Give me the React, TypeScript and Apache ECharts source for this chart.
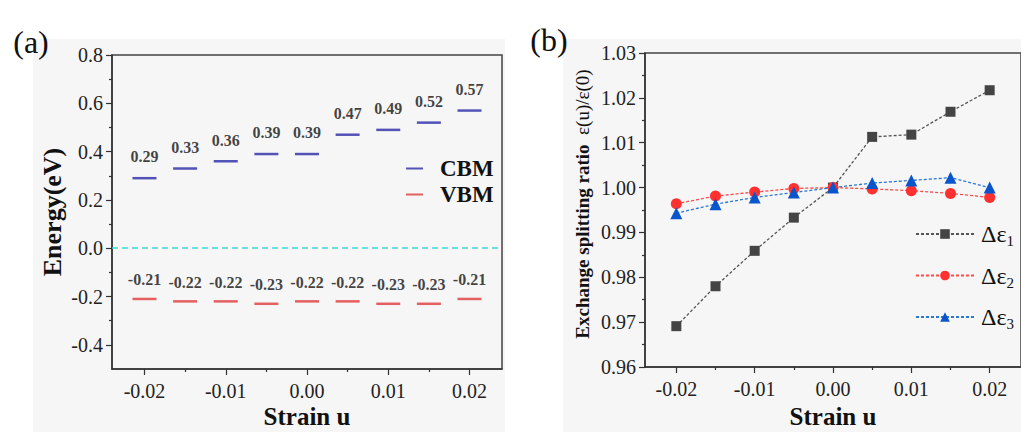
import React, { useEffect, useRef } from "react";
import * as echarts from "echarts";

const strain = [-0.02, -0.015, -0.01, -0.005, 0, 0.005, 0.01, 0.015, 0.02];
const cbm = [0.29, 0.33, 0.36, 0.39, 0.39, 0.47, 0.49, 0.52, 0.57];
const vbm = [-0.21, -0.22, -0.22, -0.23, -0.22, -0.22, -0.23, -0.23, -0.21];
const d1 = [0.9691, 0.978, 0.9859, 0.9933, 1.0, 1.0113, 1.0118, 1.0169, 1.0217];
const d2 = [0.9964, 0.9981, 0.999, 0.9998, 1.0, 0.9997, 0.9993, 0.9987, 0.9978];
const d3 = [0.9943, 0.9963, 0.9978, 0.9989, 1.0, 1.001, 1.0016, 1.0022, 1.0];

const xMajor = [-0.02, -0.01, 0, 0.01, 0.02];
const xMinor = [-0.015, -0.005, 0.005, 0.015];
const yaMajor = [-0.4, -0.2, 0, 0.2, 0.4, 0.6, 0.8];
const yaMinor = [-0.3, -0.1, 0.1, 0.3, 0.5, 0.7];
const ybMajor = [0.96, 0.97, 0.98, 0.99, 1.0, 1.01, 1.02, 1.03];
const ybMinor = [0.965, 0.975, 0.985, 0.995, 1.005, 1.015, 1.025];

const FONT = "Liberation Serif";
const AX = "#333";

function pairs(ys: number[]) {
  return strain.map((x, i) => [x, ys[i]]);
}

function mainAxis(grid: number, pos: string, min: number, max: number, major: number[], digits: number, margin: number) {
  return {
    type: "value",
    gridIndex: grid,
    position: pos,
    min,
    max,
    axisLine: { show: true, onZero: false, lineStyle: { color: AX, width: 1.5 } },
    axisTick: { show: true, customValues: major, length: 6, lineStyle: { color: AX, width: 1.2 } },
    axisLabel: {
      show: true,
      customValues: major,
      formatter: (v: number) => v.toFixed(digits),
      fontFamily: FONT,
      fontSize: 20,
      color: "#222",
      margin,
    },
    splitLine: { show: false },
  };
}

function minorAxis(grid: number, pos: string, min: number, max: number, minor: number[]) {
  return {
    type: "value",
    gridIndex: grid,
    position: pos,
    offset: 0,
    min,
    max,
    axisLine: { show: false, onZero: false },
    axisTick: { show: true, customValues: minor, length: 3, lineStyle: { color: AX, width: 1.2 } },
    axisLabel: { show: false },
    splitLine: { show: false },
  };
}

export default function App() {
  const ref = useRef<HTMLDivElement>(null);
  useEffect(() => {
    if (!ref.current) return;
    const chart = echarts.init(ref.current, null, { renderer: "svg" });
    const pointLabel = (dist: number) => ({
      show: true,
      position: "top",
      distance: dist,
      formatter: (p: any) => p.value[1].toFixed(2),
      fontFamily: FONT,
      fontWeight: "bold",
      fontSize: 16,
      color: "#111",
    });
    const lineSeries = (name: string, ys: number[], sym: string, size: number, color: string, lineColor: string) => ({
      name,
      type: "line",
      xAxisIndex: 2,
      yAxisIndex: 2,
      data: pairs(ys),
      symbol: sym,
      symbolSize: size,
      itemStyle: { color },
      lineStyle: { color: lineColor, width: 1.3, type: [3, 2] },
    });
    chart.setOption({
      animation: false,
      backgroundColor: "#ffffff",
      textStyle: { fontFamily: FONT },
      graphic: [
        { type: "rect", z: -10, shape: { x: 33, y: 39, width: 472, height: 393 }, style: { fill: "#f6f6f6" } },
        { type: "rect", z: -10, shape: { x: 563, y: 39, width: 458, height: 393 }, style: { fill: "#f6f6f6" } },
        { type: "text", x: 31, y: 42, style: { text: "(a)", fontFamily: FONT, fontSize: 32, fill: "#111", align: "center", verticalAlign: "middle" } },
        { type: "text", x: 549, y: 40, style: { text: "(b)", fontFamily: FONT, fontSize: 32, fill: "#111", align: "center", verticalAlign: "middle" } },
        { type: "text", x: 52, y: 212, rotation: Math.PI / 2, style: { text: "Energy(eV)", fontFamily: FONT, fontWeight: "bold", fontSize: 26, fill: "#111", align: "center", verticalAlign: "middle" } },
        { type: "text", x: 307, y: 416, style: { text: "Strain u", fontFamily: FONT, fontWeight: "bold", fontSize: 25, fill: "#111", align: "center", verticalAlign: "middle" } },
        { type: "text", x: 833, y: 416, style: { text: "Strain u", fontFamily: FONT, fontWeight: "bold", fontSize: 25, fill: "#111", align: "center", verticalAlign: "middle" } },
        {
          type: "text",
          x: 582,
          y: 204,
          rotation: Math.PI / 2,
          style: {
            text: "{b|Exchange splitting ratio}{n|  ε(u)/ε(0)}",
            rich: {
              b: { fontFamily: FONT, fontWeight: "bold", fontSize: 19, fill: "#111" },
              n: { fontFamily: FONT, fontSize: 19, fill: "#111" },
            },
            align: "center",
            verticalAlign: "middle",
          },
        },
      ],
      grid: [
        { left: 112, top: 55, width: 390, height: 314, show: true, borderColor: "#444", borderWidth: 1.5, backgroundColor: "transparent" },
        { left: 645, top: 53, width: 387, height: 314, show: true, borderColor: "#444", borderWidth: 1.5, backgroundColor: "transparent" },
      ],
      xAxis: [
        mainAxis(0, "bottom", -0.024, 0.024, xMajor, 2, 12),
        minorAxis(0, "bottom", -0.024, 0.024, xMinor),
        mainAxis(1, "bottom", -0.024, 0.024, xMajor, 2, 12),
        minorAxis(1, "bottom", -0.024, 0.024, xMinor),
      ],
      yAxis: [
        mainAxis(0, "left", -0.5, 0.8, yaMajor, 1, 9),
        minorAxis(0, "left", -0.5, 0.8, yaMinor),
        mainAxis(1, "left", 0.96, 1.03, ybMajor, 2, 9),
        minorAxis(1, "left", 0.96, 1.03, ybMinor),
      ],
      legend: [
        {
          data: ["CBM", "VBM"],
          orient: "vertical",
          left: 401,
          top: 152,
          itemWidth: 17,
          itemHeight: 2,
          itemGap: 3,
          textStyle: { fontFamily: FONT, fontWeight: "bold", fontSize: 23, color: "#111", padding: [0, 0, 0, 12] },
        },
        {
          data: ["d1", "d2", "d3"],
          orient: "vertical",
          left: 910,
          top: 217,
          itemWidth: 58,
          itemHeight: 12,
          itemGap: 15,
          formatter: (name: string) => `{a|Δε}{s|${name.slice(1)}}`,
          textStyle: {
            color: "#111",
            padding: [0, 0, 0, 2],
            rich: {
              a: { fontFamily: FONT, fontSize: 24, lineHeight: 29, verticalAlign: "middle", color: "#111" },
              s: { fontFamily: FONT, fontSize: 15, lineHeight: 29, verticalAlign: "bottom", color: "#111" },
            },
          },
        },
      ],
      series: [
        {
          name: "CBM",
          type: "scatter",
          xAxisIndex: 0,
          yAxisIndex: 0,
          data: pairs(cbm),
          symbol: "rect",
          symbolSize: [24, 2.5],
          itemStyle: { color: "#2a2aa8" },
          label: pointLabel(12),
          markLine: {
            silent: true,
            symbol: "none",
            label: { show: false },
            lineStyle: { color: "#40d4d4", type: [6, 4], width: 1.5 },
            data: [{ yAxis: 0 }],
          },
        },
        {
          name: "VBM",
          type: "scatter",
          xAxisIndex: 0,
          yAxisIndex: 0,
          data: pairs(vbm),
          symbol: "rect",
          symbolSize: [24, 2.5],
          itemStyle: { color: "#e03a3a" },
          label: pointLabel(10),
        },
        lineSeries("d1", d1, "rect", 10, "#444444", "#555555"),
        lineSeries("d2", d2, "circle", 11, "#ff3030", "#ff4a4a"),
        lineSeries("d3", d3, "triangle", 12, "#0a55cc", "#2a78d0"),
      ],
    });
    return () => chart.dispose();
  }, []);
  return (
    <div
      ref={ref}
      style={{ position: "absolute", left: 0, top: 0, width: 1021, height: 432, overflow: "hidden" }}
    />
  );
}
